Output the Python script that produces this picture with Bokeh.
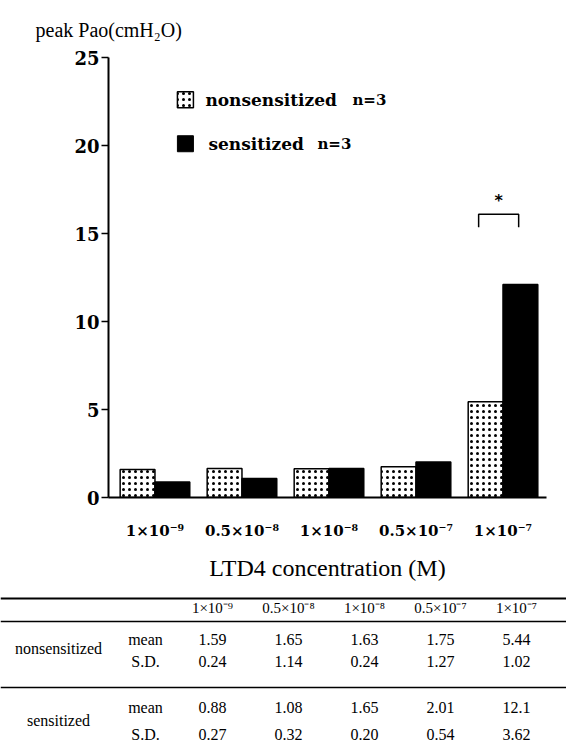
from bokeh.plotting import figure
from bokeh.models import Range1d, FixedTicker, Title
from bokeh.layouts import column
from bokeh.core.properties import value
from bokeh.embed import file_html
from bokeh.resources import INLINE

# ---------------- data ----------------
concentrations = ["1×10⁻⁹", "0.5×10⁻⁸", "1×10⁻⁸", "0.5×10⁻⁷", "1×10⁻⁷"]
nonsens_mean = [1.59, 1.65, 1.63, 1.75, 5.44]
nonsens_sd = [0.24, 1.14, 0.24, 1.27, 1.02]
sens_mean = [0.88, 1.08, 1.65, 2.01, 12.1]
sens_sd = [0.27, 0.32, 0.20, 0.54, 3.62]
y_ticks = [0, 5, 10, 15, 20, 25]
group_names = ["nonsensitized", "sensitized"]
group_n = ["n=3", "n=3"]
stat_names = ["mean", "S.D."]
sig_group = 4          # group with significant difference (*)
sig_bracket_top = 16.1
sig_bracket_leg = 15.35

SERIF_B = "DejaVu Serif"
SERIF = "Liberation Serif"

xs = list(range(len(concentrations)))
off = 0.2
bw = 0.4

p = figure(width=566, height=595, x_range=Range1d(-0.534, 4.5), y_range=Range1d(0, 25),
           output_backend="svg", toolbar_location=None,
           min_border_left=108, min_border_right=20, min_border_top=57, min_border_bottom=98)
p.frame_align = False
p.outline_line_color = None
p.grid.visible = False
p.background_fill_color = "white"
p.border_fill_color = "white"

# bars
p.vbar(x=[x - off for x in xs], top=nonsens_mean, width=bw, fill_color="white",
       line_color="black", line_width=1.5, hatch_pattern="dot", hatch_color="black",
       hatch_scale=6, hatch_weight=1)
p.vbar(x=[x + off for x in xs], top=sens_mean, width=bw, fill_color="black",
       line_color="black", line_width=1.5)

# y axis
p.yaxis.ticker = FixedTicker(ticks=y_ticks)
p.yaxis.major_label_text_font = SERIF_B
p.yaxis.major_label_text_font_style = "bold"
p.yaxis.major_label_text_font_size = "18px"
p.yaxis.major_label_text_color = "black"
p.yaxis.major_tick_out = 7
p.yaxis.major_tick_in = 0
p.yaxis.minor_tick_out = 0
p.yaxis.minor_tick_in = 0
p.yaxis.axis_line_width = 2
p.yaxis.major_tick_line_width = 1.5
p.yaxis.major_label_standoff = 2

# x axis
p.xaxis.ticker = FixedTicker(ticks=xs)
p.xaxis.major_label_overrides = {i: c for i, c in enumerate(concentrations)}
p.xaxis.major_label_text_font = SERIF_B
p.xaxis.major_label_text_font_style = "bold"
p.xaxis.major_label_text_font_size = "15px"
p.xaxis.major_label_text_color = "black"
p.xaxis.major_tick_out = 0
p.xaxis.major_tick_in = 0
p.xaxis.minor_tick_out = 0
p.xaxis.minor_tick_in = 0
p.xaxis.axis_line_width = 2
p.xaxis.major_label_standoff = 24
p.xaxis.axis_label = "LTD4 concentration (M)"
p.xaxis.axis_label_text_font = SERIF
p.xaxis.axis_label_text_font_style = "normal"
p.xaxis.axis_label_text_font_size = "24px"
p.xaxis.axis_label_text_color = "black"
p.xaxis.axis_label_standoff = 12

# y-axis title at top-left
p.add_layout(Title(text="peak Pao(cmH₂O)", align="left", offset=-73, standoff=33,
                   text_font=SERIF, text_font_style="normal", text_font_size="20px",
                   text_color="black"), "above")

# legend (manual)
leg_x = 0.35
leg_y = [22.6, 20.1]
p.rect(x=[leg_x], y=[leg_y[0]], width=16, height=16, width_units="screen", height_units="screen",
       fill_color="white", line_color="black", line_width=1.5, hatch_pattern="dot",
       hatch_color="black", hatch_scale=6, hatch_weight=1)
p.rect(x=[leg_x], y=[leg_y[1]], width=16, height=16, width_units="screen", height_units="screen",
       fill_color="black", line_color="black")
p.text(x=[leg_x, leg_x], y=leg_y, text=group_names, x_offset=[20, 23],
       text_font=value(SERIF_B), text_font_style="bold", text_font_size="17px",
       text_baseline="middle", text_color="black")
p.text(x=[leg_x, leg_x], y=leg_y, text=group_n, x_offset=[167, 132],
       text_font=value(SERIF_B), text_font_style="bold", text_font_size="15px",
       text_baseline="middle", text_color="black")

# significance bracket
bl = sig_group - off - 0.08
br = sig_group + off - 0.02
p.line(x=[bl, bl, br, br], y=[sig_bracket_leg, sig_bracket_top, sig_bracket_top, sig_bracket_leg],
       line_color="black", line_width=1.5)
p.text(x=[(bl + br) / 2], y=[sig_bracket_top + 0.75], text=["*"], text_align="center",
       text_baseline="middle", text_font=value("DejaVu Sans"), text_font_style="bold",
       text_font_size="16px", text_color="black")

# ---------------- table ----------------
t = figure(width=566, height=152, x_range=Range1d(0, 566), y_range=Range1d(747, 595),
           output_backend="svg", toolbar_location=None, min_border=0,
           x_axis_location=None, y_axis_location=None)
t.frame_align = False
t.outline_line_color = None
t.grid.visible = False
t.background_fill_color = "white"
t.border_fill_color = "white"

col_x = [212 + 76 * i for i in range(len(concentrations))]
line_y = [598, 621, 687]
t.segment(x0=[0] * 3, x1=[566] * 3, y0=line_y, y1=line_y, line_color="black",
          line_width=[2, 1.5, 1.5])

def fmt(v):
    return f"{v:.2f}" if v < 10 else f"{v:.1f}"

txt_kw = dict(text_align="center", text_baseline="middle", text_font=value(SERIF),
              text_font_size="16px", text_color="black")
t.text(x=col_x, y=[607] * 5, text=concentrations, **{**txt_kw, "text_font_size": "15px"})
rows = [(639, nonsens_mean), (661, nonsens_sd), (707, sens_mean), (734, sens_sd)]
for yy, vals in rows:
    t.text(x=col_x, y=[yy] * len(vals), text=[fmt(v) for v in vals], **txt_kw)
t.text(x=[145] * 4, y=[639, 661, 707, 734], text=stat_names * 2, **txt_kw)
t.text(x=[58, 58], y=[648, 720], text=group_names, **txt_kw)

layout = column(p, t, spacing=0)
open("out.html", "w").write(file_html(layout, INLINE))
